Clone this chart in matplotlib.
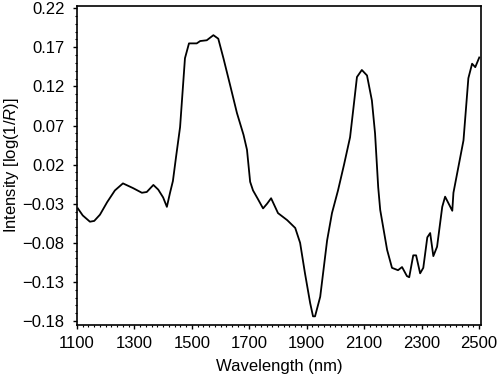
import numpy as np
import matplotlib
matplotlib.use("Agg")
import matplotlib.pyplot as plt
from matplotlib.ticker import MultipleLocator

plt.rcParams['font.family'] = ['Liberation Sans', 'DejaVu Sans']
plt.rcParams['mathtext.fontset'] = 'custom'
plt.rcParams['mathtext.it'] = 'Liberation Sans:italic'
plt.rcParams['mathtext.rm'] = 'Liberation Sans'

# wavelength (nm) and intensity log(1/R)
wavelength = [1103, 1120, 1145, 1160, 1180, 1205, 1232, 1260, 1295, 1326, 1343,
              1366, 1383, 1400, 1413, 1424, 1434, 1445, 1459, 1476, 1490, 1517,
              1529, 1552, 1575, 1592, 1610, 1633, 1657, 1680, 1692, 1703, 1713,
              1730, 1748, 1762, 1776, 1800, 1832, 1860, 1877, 1894, 1912, 1922,
              1929, 1947, 1971, 1988, 2009, 2030, 2051, 2062, 2075, 2092, 2110,
              2127, 2138, 2149, 2156, 2180, 2197, 2218, 2232, 2249, 2257, 2271,
              2281, 2295, 2306, 2320, 2330, 2341, 2354, 2372, 2382, 2407, 2411,
              2446, 2463, 2476, 2487, 2501]
intensity = [-0.036, -0.045, -0.053, -0.052, -0.044, -0.028, -0.013, -0.004,
             -0.010, -0.016, -0.015, -0.006, -0.012, -0.022, -0.034, -0.016,
             -0.001, 0.030, 0.068, 0.156, 0.175, 0.175, 0.178, 0.179, 0.1855,
             0.181, 0.156, 0.122, 0.086, 0.058, 0.039, -0.002, -0.013, -0.024,
             -0.036, -0.030, -0.023, -0.042, -0.051, -0.061, -0.080, -0.119,
             -0.157, -0.174, -0.174, -0.149, -0.077, -0.042, -0.013, 0.020,
             0.055, 0.090, 0.132, 0.141, 0.134, 0.102, 0.060, -0.009, -0.038,
             -0.089, -0.112, -0.115, -0.111, -0.1225, -0.124, -0.096, -0.096,
             -0.119, -0.112, -0.073, -0.0675, -0.097, -0.085, -0.034, -0.021,
             -0.039, -0.016, 0.051, 0.1305, 0.149, 0.1446, 0.157]

fig = plt.figure(figsize=(5, 3.85), dpi=100)
ax = fig.add_axes([0.154, 0.156, 0.808, 0.828])

ax.plot(wavelength, intensity, color='black', lw=1.3)

ax.set_xlim(1100, 2507)
ax.set_ylim(-0.185, 0.2226)
ax.set_xticks([1100, 1300, 1500, 1700, 1900, 2100, 2300, 2500])
ax.set_yticks([-0.18, -0.13, -0.08, -0.03, 0.02, 0.07, 0.12, 0.17, 0.22])
ax.set_yticklabels(['\u22120.18', '\u22120.13', '\u22120.08', '\u22120.03',
                    '0.02', '0.07', '0.12', '0.17', '0.22'])
ax.xaxis.set_minor_locator(MultipleLocator(20))
ax.yaxis.set_minor_locator(MultipleLocator(0.01))
ax.tick_params(which='major', length=3, width=1, labelsize=12, direction='out')
ax.tick_params(axis='y', which='major', pad=6)
ax.tick_params(axis='x', which='major', pad=5)
ax.tick_params(which='minor', length=1.5, width=0.8, direction='out')
ax.tick_params(top=False, right=False)
for s in ax.spines.values():
    s.set_linewidth(1.2)

ax.set_xlabel('Wavelength (nm)', fontsize=12, labelpad=6)
ax.set_ylabel('Intensity [log(1/$R$)]', fontsize=12, labelpad=1)

fig.savefig('out.png', dpi=100)
